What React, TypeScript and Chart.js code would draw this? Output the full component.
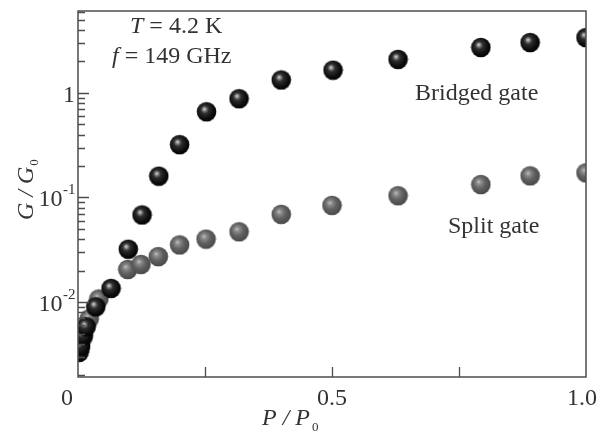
import React, { useEffect, useRef } from "react";
import { Chart, registerables } from "chart.js";

Chart.register(...registerables);

// ---- data ----
const bridgedX = [0.002, 0.005, 0.010, 0.016, 0.035, 0.065, 0.099, 0.126, 0.159, 0.200, 0.253, 0.317, 0.400, 0.502, 0.630, 0.793, 0.890, 1.0];
const bridgedY = [0.0033, 0.0038, 0.0048, 0.0058, 0.0090, 0.0135, 0.032, 0.068, 0.16, 0.32, 0.66, 0.88, 1.33, 1.65, 2.09, 2.72, 3.03, 3.38];

const splitX = [0.004, 0.010, 0.022, 0.041, 0.098, 0.124, 0.158, 0.200, 0.252, 0.317, 0.400, 0.500, 0.630, 0.793, 0.890, 1.0];
const splitY = [0.0036, 0.0046, 0.0069, 0.0107, 0.0205, 0.0229, 0.0272, 0.0352, 0.040, 0.047, 0.069, 0.084, 0.104, 0.133, 0.161, 0.172];

const xTickValues = [0, 0.25, 0.5, 0.75, 1.0];
const xTickLabels = ["0", "", "0.5", "", "1.0"];
const yMajorValues = [0.01, 0.1, 1];
const yMajorBase = ["10", "10", "1"];
const yMajorSup = ["-2", "-1", ""];
const yMinorMultipliers = [2, 3, 4, 5, 6, 7, 8, 9];
const yDecades = [0.001, 0.01, 0.1, 1];

const X_MIN = 0;
const X_MAX = 1.0;
const Y_MIN = 0.00192;
const Y_MAX = 6.07;

const SERIF = "'Liberation Serif', 'Times New Roman', serif";
const TEXT = "#333333";
const AXIS = "#4d4d4d";

function makeSphere(kind: "black" | "gray"): HTMLCanvasElement {
  const size = 21;
  const c = document.createElement("canvas");
  c.width = size;
  c.height = size;
  const g = c.getContext("2d")!;
  const cx = size / 2;
  const cy = size / 2;
  const r = 9.8;
  const grad = g.createRadialGradient(cx - 2.2, cy - 2.8, 0, cx - 1, cy - 1, r * 1.25);
  if (kind === "black") {
    grad.addColorStop(0, "#e6e6e6");
    grad.addColorStop(0.13, "#8c8c8c");
    grad.addColorStop(0.32, "#2e2e2e");
    grad.addColorStop(0.7, "#0c0c0c");
    grad.addColorStop(1, "#000000");
  } else {
    grad.addColorStop(0, "#c4c4c4");
    grad.addColorStop(0.2, "#8a8a8a");
    grad.addColorStop(0.5, "#616161");
    grad.addColorStop(1, "#424242");
  }
  g.fillStyle = grad;
  g.beginPath();
  g.arc(cx, cy, r, 0, Math.PI * 2);
  g.fill();
  return c;
}

const clipPlugin = {
  id: "areaClip",
  beforeDatasetsDraw(chart: any) {
    const { ctx, chartArea: a } = chart;
    ctx.save();
    ctx.beginPath();
    ctx.rect(a.left, a.top, a.right - a.left, a.bottom - a.top);
    ctx.clip();
  },
  afterDatasetsDraw(chart: any) {
    chart.ctx.restore();
  },
};

const decorPlugin = {
  id: "decor",
  afterDraw(chart: any) {
    const { ctx, chartArea: a } = chart;
    const xs = chart.scales.x;
    const ys = chart.scales.y;
    ctx.save();

    // frame
    ctx.strokeStyle = AXIS;
    ctx.lineWidth = 1.5;
    ctx.strokeRect(a.left, a.top, a.right - a.left, a.bottom - a.top);

    // x ticks (inward)
    ctx.lineWidth = 1.3;
    ctx.beginPath();
    xTickValues.forEach((v) => {
      if (v <= X_MIN || v >= X_MAX) return;
      const px = Math.round(xs.getPixelForValue(v)) + 0.5;
      ctx.moveTo(px, a.bottom);
      ctx.lineTo(px, a.bottom - 10);
    });
    ctx.stroke();

    // y ticks (inward)
    ctx.beginPath();
    yDecades.forEach((d) => {
      yMinorMultipliers.forEach((m) => {
        const v = d * m;
        if (v < Y_MIN || v > Y_MAX) return;
        const py = Math.round(ys.getPixelForValue(v)) + 0.5;
        ctx.moveTo(a.left, py);
        ctx.lineTo(a.left + 7, py);
      });
    });
    yMajorValues.forEach((v) => {
      const py = Math.round(ys.getPixelForValue(v)) + 0.5;
      ctx.moveTo(a.left, py);
      ctx.lineTo(a.left + 11, py);
    });
    ctx.stroke();

    ctx.fillStyle = TEXT;

    // x tick labels
    ctx.font = `24px ${SERIF}`;
    ctx.textAlign = "center";
    ctx.textBaseline = "alphabetic";
    xTickValues.forEach((v, i) => {
      const label = xTickLabels[i];
      if (!label) return;
      let px = xs.getPixelForValue(v);
      if (v === X_MIN) px -= 11;
      if (v === X_MAX) px -= 4;
      ctx.fillText(label, px, a.bottom + 28);
    });

    // y tick labels with superscripts
    yMajorValues.forEach((v, i) => {
      const py = ys.getPixelForValue(v);
      const base = yMajorBase[i];
      const sup = yMajorSup[i];
      ctx.textAlign = "left";
      ctx.font = `15px ${SERIF}`;
      const supW = sup ? ctx.measureText(sup).width : 0;
      ctx.font = `24px ${SERIF}`;
      const baseW = ctx.measureText(base).width;
      const right = a.left - 3;
      const bx = right - supW - baseW;
      ctx.fillText(base, bx, py + 9);
      if (sup) {
        ctx.font = `15px ${SERIF}`;
        ctx.fillText(sup, bx + baseW + 0.5, py - 3);
      }
    });

    // x axis title  P / P0
    ctx.textAlign = "left";
    ctx.font = `italic 24px ${SERIF}`;
    const xt = "P / P";
    ctx.fillText(xt, 262, 425);
    const xtW = ctx.measureText(xt).width;
    ctx.font = `13px ${SERIF}`;
    ctx.fillText("0", 262 + xtW + 2, 431);

    // y axis title  G / G0 (rotated)
    ctx.save();
    ctx.translate(33, 220);
    ctx.rotate(-Math.PI / 2);
    ctx.font = `italic 24px ${SERIF}`;
    const yt = "G / G";
    ctx.fillText(yt, 0, 0);
    const ytW = ctx.measureText(yt).width;
    ctx.font = `13px ${SERIF}`;
    ctx.fillText("0", ytW + 1, 5);
    ctx.restore();

    // annotations
    const drawParts = (parts: [string, boolean][], x: number, y: number) => {
      let cx = x;
      parts.forEach(([t, it]) => {
        ctx.font = `${it ? "italic " : ""}24px ${SERIF}`;
        ctx.fillText(t, cx, y);
        cx += ctx.measureText(t).width;
      });
    };
    ctx.textAlign = "left";
    drawParts([["T", true], [" = 4.2 K", false]], 130, 33);
    drawParts([["f", true], [" = 149 GHz", false]], 112, 63);
    ctx.font = `24px ${SERIF}`;
    ctx.fillText("Bridged gate", 415, 100);
    ctx.fillText("Split gate", 448, 233);

    ctx.restore();
  },
};

export default function App() {
  const ref = useRef<HTMLCanvasElement | null>(null);

  useEffect(() => {
    document.body.style.margin = "0";
    document.body.style.overflow = "hidden";
    const canvas = ref.current;
    if (!canvas) return;
    const blackSphere = makeSphere("black");
    const graySphere = makeSphere("gray");

    const chart = new Chart(canvas, {
      type: "scatter",
      data: {
        datasets: [
          {
            label: "Bridged gate",
            data: bridgedX.map((x, i) => ({ x, y: bridgedY[i] })),
            pointStyle: blackSphere as any,
            pointRadius: 10,
          },
          {
            label: "Split gate",
            data: splitX.map((x, i) => ({ x, y: splitY[i] })),
            pointStyle: graySphere as any,
            pointRadius: 10,
          },
        ],
      },
      options: {
        animation: false,
        responsive: false,
        devicePixelRatio: 1,
        events: [],
        layout: { padding: { left: 78, right: 22, top: 6, bottom: 58 } },
        plugins: {
          legend: { display: false },
          tooltip: { enabled: false },
        },
        scales: {
          x: {
            type: "linear",
            min: X_MIN,
            max: X_MAX,
            display: false,
          },
          y: {
            type: "logarithmic",
            min: Y_MIN,
            max: Y_MAX,
            display: false,
          },
        },
      },
      plugins: [clipPlugin, decorPlugin],
    });
    return () => chart.destroy();
  }, []);

  return (
    <div style={{ width: 608, height: 435, background: "#ffffff" }}>
      <canvas ref={ref} width={608} height={435} style={{ display: "block" }} />
    </div>
  );
}
